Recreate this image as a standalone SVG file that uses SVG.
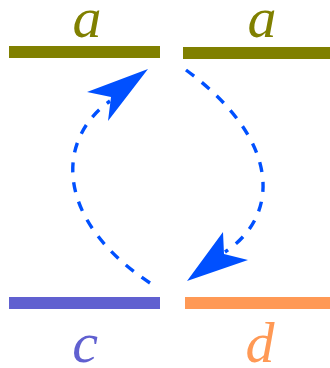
<svg xmlns="http://www.w3.org/2000/svg" width="330" height="368" viewBox="0 0 330 368">
<style>
.lbl{font-family:"Liberation Serif",serif;font-style:italic;font-size:58px;text-anchor:middle}
.conn{fill:none;stroke:#0050ff;stroke-width:3.4;stroke-dasharray:10 10}
.head{fill:#0050ff}
</style>
<rect width="330" height="368" fill="#fff"/>
<g id="node-a1"><rect x="9" y="46" width="151" height="12" fill="#808000"/><text class="lbl" x="87" y="37" fill="#808000">a</text></g>
<g id="node-a2"><rect x="183" y="47" width="147" height="12" fill="#808000"/><text class="lbl" x="262" y="37" fill="#808000">a</text></g>
<g id="node-c"><rect x="9" y="297" width="151" height="12" fill="#6060d0"/><text class="lbl" x="85" y="362" fill="#6060d0">c</text></g>
<g id="node-d"><rect x="185" y="297" width="145" height="12" fill="#ff9955"/><text class="lbl" x="260" y="362" fill="#ff9955">d</text></g>
<g id="connectors">
<path class="conn" d="M150,283 C55,220 55,140 110,101"/>
<polygon class="head" points="148,69 87,92 111,97 108,121"/>
<path class="conn" d="M186,70 C281,140 281,215 225,252"/>
<polygon class="head" points="187,281 223,232 224,254 248,260"/>
</g>
</svg>
